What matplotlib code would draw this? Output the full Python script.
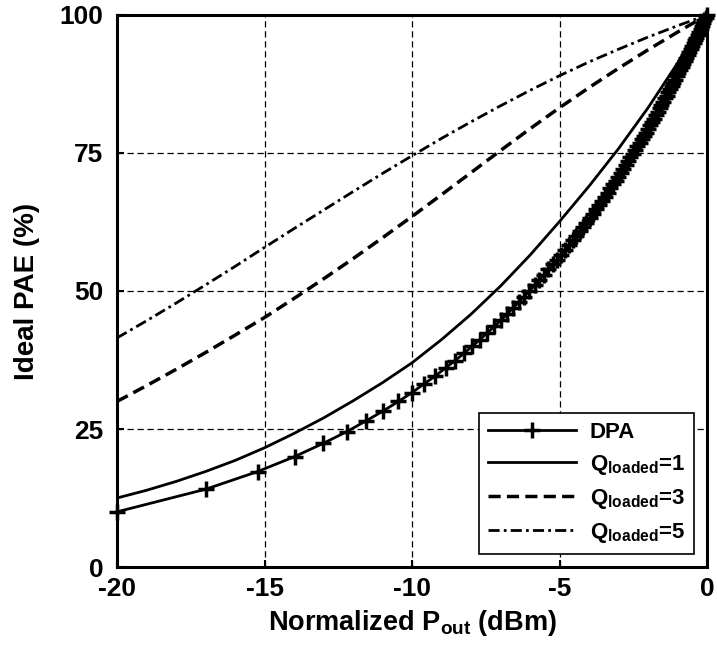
import matplotlib
matplotlib.use("Agg")
import matplotlib.pyplot as plt

plt.rcParams['font.family'] = ['Liberation Sans', 'DejaVu Sans']
plt.rcParams['font.weight'] = 'bold'
plt.rcParams['mathtext.fontset'] = 'custom'
plt.rcParams['mathtext.rm'] = 'Liberation Sans:bold'
plt.rcParams['mathtext.bf'] = 'Liberation Sans:bold'
plt.rcParams['mathtext.it'] = 'Liberation Sans:bold'

# DPA curve (markers at each sample)
dpa_x = [-20.00, -16.99, -15.23, -13.98, -13.01, -12.22, -11.55, -10.97, -10.46, -10.00,
         -9.59, -9.21, -8.86, -8.54, -8.24, -7.96, -7.70, -7.45, -7.21, -6.99,
         -6.78, -6.58, -6.38, -6.20, -6.02, -5.85, -5.69, -5.53, -5.38, -5.23,
         -5.09, -4.95, -4.81, -4.69, -4.56, -4.44, -4.32, -4.20, -4.09, -3.98,
         -3.87, -3.77, -3.67, -3.57, -3.47, -3.37, -3.28, -3.19, -3.10, -3.01,
         -2.92, -2.84, -2.76, -2.68, -2.60, -2.52, -2.44, -2.37, -2.29, -2.22,
         -2.15, -2.08, -2.01, -1.94, -1.87, -1.80, -1.74, -1.67, -1.61, -1.55,
         -1.49, -1.43, -1.37, -1.31, -1.25, -1.19, -1.14, -1.08, -1.02, -0.97,
         -0.92, -0.86, -0.81, -0.76, -0.71, -0.66, -0.61, -0.56, -0.51, -0.46,
         -0.41, -0.36, -0.32, -0.27, -0.22, -0.18, -0.13, -0.09, -0.04, 0.00]
dpa_y = [10.0, 14.1, 17.3, 20.0, 22.4, 24.5, 26.5, 28.3, 30.0, 31.6,
         33.2, 34.6, 36.1, 37.4, 38.7, 40.0, 41.2, 42.4, 43.6, 44.7,
         45.8, 46.9, 48.0, 49.0, 50.0, 51.0, 52.0, 52.9, 53.9, 54.8,
         55.7, 56.6, 57.4, 58.3, 59.2, 60.0, 60.8, 61.6, 62.4, 63.2,
         64.0, 64.8, 65.6, 66.3, 67.1, 67.8, 68.6, 69.3, 70.0, 70.7,
         71.4, 72.1, 72.8, 73.5, 74.2, 74.8, 75.5, 76.2, 76.8, 77.5,
         78.1, 78.7, 79.4, 80.0, 80.6, 81.2, 81.9, 82.5, 83.1, 83.7,
         84.3, 84.9, 85.4, 86.0, 86.6, 87.2, 87.7, 88.3, 88.9, 89.4,
         90.0, 90.6, 91.1, 91.7, 92.2, 92.7, 93.3, 93.8, 94.3, 94.9,
         95.4, 95.9, 96.4, 97.0, 97.5, 98.0, 98.5, 99.0, 99.5, 100.0]

# Q_loaded curves
q_x = [-20, -19, -18, -17, -16, -15, -14, -13, -12, -11, -10,
       -9, -8, -7, -6, -5, -4, -3, -2, -1, 0]
q1_y = [12.5, 13.9, 15.5, 17.3, 19.3, 21.6, 24.2, 27.0, 30.1, 33.4, 37.0,
        41.2, 45.8, 50.9, 56.5, 62.6, 69.0, 75.8, 83.2, 91.3, 100.0]
q3_y = [30.0, 32.85, 35.8, 38.85, 42.0, 45.2, 48.65, 52.2, 55.85, 59.65, 63.5,
        67.45, 71.45, 75.45, 79.4, 83.2, 86.85, 90.35, 93.7, 96.9, 100.0]
q5_y = [41.5, 44.6, 47.8, 51.1, 54.45, 57.9, 61.3, 64.65, 68.0, 71.3, 74.5,
        77.65, 80.65, 83.55, 86.35, 89.0, 91.5, 93.8, 96.0, 98.05, 100.0]

x_ticks = [-20, -15, -10, -5, 0]
y_ticks = [0, 25, 50, 75, 100]

fig = plt.figure(figsize=(7.17, 6.51), dpi=100)
ax = fig.add_axes([0.1632, 0.129, 0.823, 0.848])

ax.plot(dpa_x, dpa_y, color='black', lw=2, marker='+', markersize=12,
        markeredgewidth=2.5, label='DPA', clip_on=False, zorder=3)
ax.plot(q_x, q1_y, color='black', lw=2, linestyle='-',
        label=r'$\mathbf{Q_{loaded}}$=1')
ax.plot(q_x, q3_y, color='black', lw=2.5, linestyle=(0, (3.5, 1.8)),
        label=r'$\mathbf{Q_{loaded}}$=3')
ax.plot(q_x, q5_y, color='black', lw=2, linestyle=(0, (4, 1.5, 1, 1.5)),
        label=r'$\mathbf{Q_{loaded}}$=5')

ax.set_xlim(-20, 0)
ax.set_ylim(0, 100)
ax.set_xticks(x_ticks)
ax.set_yticks(y_ticks)
ax.set_xticklabels([str(v) for v in x_ticks], fontsize=19, fontweight='bold')
ax.set_yticklabels([str(v) for v in y_ticks], fontsize=19, fontweight='bold')
ax.tick_params(axis='x', direction='in', length=5, width=1.5, pad=7)
ax.tick_params(axis='y', direction='in', length=5, width=1.5, pad=10)
ax.grid(True, color='black', linestyle=(0, (5, 3)), linewidth=0.9)
for s in ax.spines.values():
    s.set_linewidth(2.2)

ax.set_xlabel(r'Normalized P$_{\mathbf{out}}$ (dBm)', fontsize=19.5, fontweight='bold', labelpad=5)
ax.set_ylabel('Ideal PAE (%)', fontsize=20, fontweight='bold', labelpad=14)

leg = ax.legend(loc='lower right', fontsize=16, handlelength=4.0, frameon=True,
                fancybox=False, edgecolor='black', framealpha=1,
                borderaxespad=0.6, labelspacing=0.45, handletextpad=0.6)
leg.get_frame().set_linewidth(1.2)
leg.set_zorder(5)

fig.savefig('out.png', dpi=100)
